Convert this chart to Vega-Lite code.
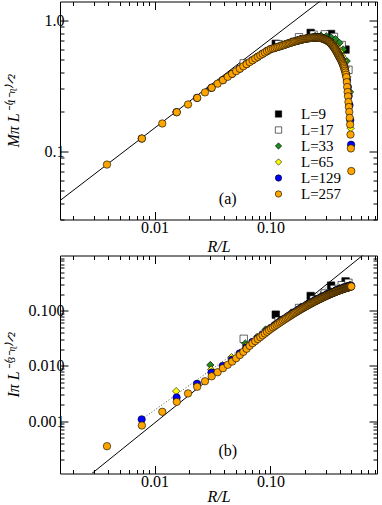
{
"$schema": "https://vega.github.io/schema/vega-lite/v6.json",
"padding": {"left": 5, "top": 0.5, "right": 0, "bottom": 0},
"spacing": -5,
"config": {
  "font": "Liberation Serif",
  "view": {"stroke": null},
  "axis": {"domainColor": "black", "domainWidth": 1, "tickColor": "black", "tickWidth": 1, "labelColor": "black", "titleColor": "black", "labelFont": "Liberation Serif", "titleFont": "Liberation Serif", "labelFontSize": 16, "titleFontSize": 16, "titleFontWeight": "normal", "grid": false, "labelOverlap": false, "labelFlush": false, "labelBound": false},
  "legend": {"labelFont": "Liberation Serif"}
},
"resolve": {"legend": {"fill": "independent", "shape": "independent"}},
"datasets": {
"pts": [
{"L":9,"x":0.1111,"m":0.664,"i":0.085},{"L":9,"x":0.2222,"m":0.805,"i":0.185},{"L":9,"x":0.3333,"m":0.79,"i":0.285},{"L":9,"x":0.4444,"m":0.6,"i":0.34},
{"L":17,"x":0.0588,"m":0.47,"i":0.031},{"L":17,"x":0.1176,"m":0.66,"i":0.066},{"L":17,"x":0.1765,"m":0.745,"i":0.112},{"L":17,"x":0.2353,"m":0.78,"i":0.16},{"L":17,"x":0.2941,"m":0.785,"i":0.205},{"L":17,"x":0.3529,"m":0.75,"i":0.248},{"L":17,"x":0.4118,"m":0.65,"i":0.29},{"L":17,"x":0.4706,"m":0.42,"i":0.32},
{"L":33,"x":0.0303,"m":0.305,"i":0.0104},{"L":33,"x":0.0606,"m":0.46,"i":0.0256},{"L":33,"x":0.0909,"m":0.585,"i":0.0457},{"L":33,"x":0.1212,"m":0.645,"i":0.0689},{"L":33,"x":0.1515,"m":0.692,"i":0.0928},{"L":33,"x":0.1818,"m":0.728,"i":0.1168},{"L":33,"x":0.2121,"m":0.75,"i":0.1405},{"L":33,"x":0.2424,"m":0.762,"i":0.1631},{"L":33,"x":0.2727,"m":0.765,"i":0.1843},{"L":33,"x":0.303,"m":0.758,"i":0.2044},{"L":33,"x":0.3333,"m":0.742,"i":0.2231},{"L":33,"x":0.3636,"m":0.72,"i":0.2406},{"L":33,"x":0.3939,"m":0.675,"i":0.2559},{"L":33,"x":0.4242,"m":0.6,"i":0.2705},{"L":33,"x":0.4545,"m":0.49,"i":0.2828},{"L":33,"x":0.4848,"m":0.285,"i":0.2945},
{"L":65,"x":0.01538,"m":0.2,"i":0.0035},{"L":65,"x":0.03077,"m":0.305,"i":0.0086},{"L":65,"x":0.04615,"m":0.39,"i":0.0144},{"L":65,"x":0.06154,"m":0.462,"i":0.0232},{"L":65,"x":0.07692,"m":0.527,"i":0.0338},{"L":65,"x":0.09231,"m":0.585,"i":0.0448},{"L":65,"x":0.1077,"m":0.618,"i":0.0564},{"L":65,"x":0.1231,"m":0.642,"i":0.0676},{"L":65,"x":0.1385,"m":0.665,"i":0.0797},{"L":65,"x":0.1538,"m":0.685,"i":0.0919},{"L":65,"x":0.1692,"m":0.702,"i":0.104},{"L":65,"x":0.1846,"m":0.717,"i":0.1158},{"L":65,"x":0.2,"m":0.728,"i":0.1274},{"L":65,"x":0.2154,"m":0.737,"i":0.1392},{"L":65,"x":0.2308,"m":0.743,"i":0.1504},{"L":65,"x":0.2462,"m":0.746,"i":0.1615},{"L":65,"x":0.2615,"m":0.746,"i":0.1719},{"L":65,"x":0.2769,"m":0.742,"i":0.1825},{"L":65,"x":0.2923,"m":0.733,"i":0.1925},{"L":65,"x":0.3077,"m":0.72,"i":0.2025},{"L":65,"x":0.3231,"m":0.706,"i":0.2117},{"L":65,"x":0.3385,"m":0.69,"i":0.221},{"L":65,"x":0.3538,"m":0.668,"i":0.23},{"L":65,"x":0.3692,"m":0.64,"i":0.2384},{"L":65,"x":0.3846,"m":0.61,"i":0.2463},{"L":65,"x":0.4,"m":0.575,"i":0.2536},{"L":65,"x":0.4154,"m":0.535,"i":0.2611},{"L":65,"x":0.4308,"m":0.49,"i":0.268},{"L":65,"x":0.4462,"m":0.44,"i":0.2743},{"L":65,"x":0.4615,"m":0.37,"i":0.2802},{"L":65,"x":0.4769,"m":0.28,"i":0.2861},{"L":65,"x":0.4923,"m":0.15,"i":0.2917},
{"L":129,"x":0.00775,"m":0.125,"i":0.00108},{"L":129,"x":0.0155,"m":0.199,"i":0.00269},{"L":129,"x":0.02326,"m":0.256,"i":0.00475},{"L":129,"x":0.03101,"m":0.306,"i":0.0076},{"L":129,"x":0.03876,"m":0.35,"i":0.01},{"L":129,"x":0.04651,"m":0.391,"i":0.01296},{"L":129,"x":0.05426,"m":0.428,"i":0.0169},{"L":129,"x":0.06202,"m":0.464,"i":0.0217},{"L":129,"x":0.06977,"m":0.497,"i":0.0271},{"L":129,"x":0.07752,"m":0.528,"i":0.0319},{"L":129,"x":0.08527,"m":0.557,"i":0.0373},{"L":129,"x":0.09302,"m":0.583,"i":0.0427},{"L":129,"x":0.1008,"m":0.606,"i":0.0488},{"L":129,"x":0.1085,"m":0.618,"i":0.0543},{"L":129,"x":0.1163,"m":0.63,"i":0.06},{"L":129,"x":0.124,"m":0.641,"i":0.0657},{"L":129,"x":0.1318,"m":0.653,"i":0.0717},{"L":129,"x":0.1395,"m":0.665,"i":0.0775},{"L":129,"x":0.1473,"m":0.675,"i":0.0833},{"L":129,"x":0.155,"m":0.685,"i":0.0893},{"L":129,"x":0.1628,"m":0.694,"i":0.0951},{"L":129,"x":0.1705,"m":0.702,"i":0.101},{"L":129,"x":0.1783,"m":0.71,"i":0.1069},{"L":129,"x":0.186,"m":0.716,"i":0.1125},{"L":129,"x":0.1938,"m":0.722,"i":0.1183},{"L":129,"x":0.2016,"m":0.727,"i":0.1238},{"L":129,"x":0.2093,"m":0.731,"i":0.1297},{"L":129,"x":0.2171,"m":0.735,"i":0.1352},{"L":129,"x":0.2248,"m":0.738,"i":0.1406},{"L":129,"x":0.2326,"m":0.74,"i":0.1462},{"L":129,"x":0.2403,"m":0.742,"i":0.1518},{"L":129,"x":0.2481,"m":0.743,"i":0.157},{"L":129,"x":0.2558,"m":0.743,"i":0.1622},{"L":129,"x":0.2636,"m":0.741,"i":0.1671},{"L":129,"x":0.2713,"m":0.738,"i":0.1722},{"L":129,"x":0.2791,"m":0.734,"i":0.1774},{"L":129,"x":0.2868,"m":0.729,"i":0.1821},{"L":129,"x":0.2946,"m":0.722,"i":0.187},{"L":129,"x":0.3023,"m":0.714,"i":0.1919},{"L":129,"x":0.3101,"m":0.706,"i":0.1967},{"L":129,"x":0.3178,"m":0.697,"i":0.2015},{"L":129,"x":0.3256,"m":0.686,"i":0.2057},{"L":129,"x":0.3333,"m":0.672,"i":0.2103},{"L":129,"x":0.3411,"m":0.657,"i":0.2148},{"L":129,"x":0.3488,"m":0.641,"i":0.2191},{"L":129,"x":0.3566,"m":0.624,"i":0.2235},{"L":129,"x":0.3643,"m":0.606,"i":0.2275},{"L":129,"x":0.3721,"m":0.588,"i":0.2316},{"L":129,"x":0.3798,"m":0.569,"i":0.2355},{"L":129,"x":0.3876,"m":0.551,"i":0.2394},{"L":129,"x":0.3953,"m":0.534,"i":0.2432},{"L":129,"x":0.4031,"m":0.517,"i":0.2464},{"L":129,"x":0.4109,"m":0.499,"i":0.2501},{"L":129,"x":0.4186,"m":0.478,"i":0.2537},{"L":129,"x":0.4264,"m":0.46,"i":0.257},{"L":129,"x":0.4341,"m":0.44,"i":0.2604},{"L":129,"x":0.4419,"m":0.415,"i":0.2634},{"L":129,"x":0.4496,"m":0.385,"i":0.2666},{"L":129,"x":0.4574,"m":0.35,"i":0.2697},{"L":129,"x":0.4651,"m":0.31,"i":0.2722},{"L":129,"x":0.4729,"m":0.265,"i":0.2751},{"L":129,"x":0.4806,"m":0.225,"i":0.278},{"L":129,"x":0.4884,"m":0.173,"i":0.2808},{"L":129,"x":0.4961,"m":0.112,"i":0.2835},
{"L":257,"x":0.00389,"m":0.079,"i":0.000353},{"L":257,"x":0.00778,"m":0.125,"i":0.000836},{"L":257,"x":0.01167,"m":0.163,"i":0.00148},{"L":257,"x":0.01556,"m":0.199,"i":0.00224},{"L":257,"x":0.01946,"m":0.228,"i":0.00318},{"L":257,"x":0.02335,"m":0.256,"i":0.0042},{"L":257,"x":0.02724,"m":0.282,"i":0.00529},{"L":257,"x":0.03113,"m":0.306,"i":0.0065},{"L":257,"x":0.03502,"m":0.329,"i":0.0077},{"L":257,"x":0.03891,"m":0.35,"i":0.0091},{"L":257,"x":0.0428,"m":0.371,"i":0.0105},{"L":257,"x":0.04669,"m":0.391,"i":0.012},{"L":257,"x":0.05058,"m":0.41,"i":0.0138},{"L":257,"x":0.05447,"m":0.428,"i":0.0158},{"L":257,"x":0.05837,"m":0.447,"i":0.018},{"L":257,"x":0.06226,"m":0.464,"i":0.0205},{"L":257,"x":0.06615,"m":0.481,"i":0.0232},{"L":257,"x":0.07004,"m":0.497,"i":0.0258},{"L":257,"x":0.07393,"m":0.513,"i":0.0282},{"L":257,"x":0.07782,"m":0.528,"i":0.0307},{"L":257,"x":0.08171,"m":0.543,"i":0.0333},{"L":257,"x":0.0856,"m":0.557,"i":0.0359},{"L":257,"x":0.08949,"m":0.57,"i":0.0387},{"L":257,"x":0.09339,"m":0.583,"i":0.0415},{"L":257,"x":0.09728,"m":0.595,"i":0.0444},{"L":257,"x":0.1012,"m":0.606,"i":0.0474},{"L":257,"x":0.1051,"m":0.612,"i":0.05},{"L":257,"x":0.1089,"m":0.618,"i":0.0527},{"L":257,"x":0.1128,"m":0.624,"i":0.0555},{"L":257,"x":0.1167,"m":0.63,"i":0.0583},{"L":257,"x":0.1206,"m":0.635,"i":0.0612},{"L":257,"x":0.1245,"m":0.641,"i":0.0638},{"L":257,"x":0.1284,"m":0.647,"i":0.0667},{"L":257,"x":0.1323,"m":0.653,"i":0.0696},{"L":257,"x":0.1362,"m":0.659,"i":0.0724},{"L":257,"x":0.1401,"m":0.665,"i":0.0752},{"L":257,"x":0.144,"m":0.67,"i":0.078},{"L":257,"x":0.1479,"m":0.675,"i":0.0809},{"L":257,"x":0.1518,"m":0.68,"i":0.0838},{"L":257,"x":0.1556,"m":0.685,"i":0.0867},{"L":257,"x":0.1595,"m":0.69,"i":0.0897},{"L":257,"x":0.1634,"m":0.694,"i":0.0923},{"L":257,"x":0.1673,"m":0.698,"i":0.0952},{"L":257,"x":0.1712,"m":0.702,"i":0.0981},{"L":257,"x":0.1751,"m":0.706,"i":0.1009},{"L":257,"x":0.179,"m":0.71,"i":0.1038},{"L":257,"x":0.1829,"m":0.713,"i":0.1064},{"L":257,"x":0.1868,"m":0.716,"i":0.1092},{"L":257,"x":0.1907,"m":0.719,"i":0.1121},{"L":257,"x":0.1946,"m":0.722,"i":0.1149},{"L":257,"x":0.1984,"m":0.725,"i":0.1178},{"L":257,"x":0.2023,"m":0.727,"i":0.1202},{"L":257,"x":0.2062,"m":0.729,"i":0.123},{"L":257,"x":0.2101,"m":0.731,"i":0.1259},{"L":257,"x":0.214,"m":0.733,"i":0.1286},{"L":257,"x":0.2179,"m":0.735,"i":0.1313},{"L":257,"x":0.2218,"m":0.737,"i":0.1338},{"L":257,"x":0.2257,"m":0.738,"i":0.1365},{"L":257,"x":0.2296,"m":0.739,"i":0.1392},{"L":257,"x":0.2335,"m":0.74,"i":0.1419},{"L":257,"x":0.2374,"m":0.741,"i":0.1446},{"L":257,"x":0.2412,"m":0.742,"i":0.1474},{"L":257,"x":0.2451,"m":0.742,"i":0.1497},{"L":257,"x":0.249,"m":0.742,"i":0.1524},{"L":257,"x":0.2529,"m":0.742,"i":0.155},{"L":257,"x":0.2568,"m":0.741,"i":0.1575},{"L":257,"x":0.2607,"m":0.74,"i":0.1602},{"L":257,"x":0.2646,"m":0.739,"i":0.1622},{"L":257,"x":0.2685,"m":0.737,"i":0.1647},{"L":257,"x":0.2724,"m":0.735,"i":0.1672},{"L":257,"x":0.2763,"m":0.733,"i":0.1697},{"L":257,"x":0.2802,"m":0.73,"i":0.1722},{"L":257,"x":0.284,"m":0.727,"i":0.1744},{"L":257,"x":0.2879,"m":0.724,"i":0.1768},{"L":257,"x":0.2918,"m":0.72,"i":0.1792},{"L":257,"x":0.2957,"m":0.716,"i":0.1816},{"L":257,"x":0.2996,"m":0.712,"i":0.184},{"L":257,"x":0.3035,"m":0.708,"i":0.1863},{"L":257,"x":0.3074,"m":0.704,"i":0.1886},{"L":257,"x":0.3113,"m":0.7,"i":0.191},{"L":257,"x":0.3152,"m":0.695,"i":0.1933},{"L":257,"x":0.3191,"m":0.69,"i":0.1956},{"L":257,"x":0.323,"m":0.685,"i":0.1975},{"L":257,"x":0.3268,"m":0.678,"i":0.1997},{"L":257,"x":0.3307,"m":0.67,"i":0.2019},{"L":257,"x":0.3346,"m":0.663,"i":0.2042},{"L":257,"x":0.3385,"m":0.655,"i":0.2064},{"L":257,"x":0.3424,"m":0.647,"i":0.2085},{"L":257,"x":0.3463,"m":0.638,"i":0.2106},{"L":257,"x":0.3502,"m":0.63,"i":0.2127},{"L":257,"x":0.3541,"m":0.621,"i":0.2148},{"L":257,"x":0.358,"m":0.612,"i":0.217},{"L":257,"x":0.3619,"m":0.603,"i":0.2189},{"L":257,"x":0.3658,"m":0.594,"i":0.2209},{"L":257,"x":0.3696,"m":0.584,"i":0.2229},{"L":257,"x":0.3735,"m":0.575,"i":0.2249},{"L":257,"x":0.3774,"m":0.565,"i":0.2269},{"L":257,"x":0.3813,"m":0.555,"i":0.2286},{"L":257,"x":0.3852,"m":0.546,"i":0.2305},{"L":257,"x":0.3891,"m":0.537,"i":0.2324},{"L":257,"x":0.393,"m":0.529,"i":0.2343},{"L":257,"x":0.3969,"m":0.52,"i":0.2361},{"L":257,"x":0.4008,"m":0.512,"i":0.2379},{"L":257,"x":0.4047,"m":0.504,"i":0.2392},{"L":257,"x":0.4086,"m":0.495,"i":0.241},{"L":257,"x":0.4125,"m":0.486,"i":0.2428},{"L":257,"x":0.4163,"m":0.477,"i":0.2445},{"L":257,"x":0.4202,"m":0.468,"i":0.2463},{"L":257,"x":0.4241,"m":0.458,"i":0.2479},{"L":257,"x":0.428,"m":0.448,"i":0.2495},{"L":257,"x":0.4319,"m":0.437,"i":0.2512},{"L":257,"x":0.4358,"m":0.425,"i":0.2528},{"L":257,"x":0.4397,"m":0.413,"i":0.2545},{"L":257,"x":0.4436,"m":0.4,"i":0.2557},{"L":257,"x":0.4475,"m":0.385,"i":0.2572},{"L":257,"x":0.4514,"m":0.369,"i":0.2588},{"L":257,"x":0.4553,"m":0.338,"i":0.2603},{"L":257,"x":0.4591,"m":0.31,"i":0.2618},{"L":257,"x":0.463,"m":0.284,"i":0.2628},{"L":257,"x":0.4669,"m":0.263,"i":0.2643},{"L":257,"x":0.4708,"m":0.238,"i":0.2657},{"L":257,"x":0.4747,"m":0.218,"i":0.2671},{"L":257,"x":0.4786,"m":0.2,"i":0.2686},{"L":257,"x":0.4825,"m":0.18,"i":0.2699},{"L":257,"x":0.4864,"m":0.16,"i":0.2712},{"L":257,"x":0.4903,"m":0.134,"i":0.2726},{"L":257,"x":0.4942,"m":0.105,"i":0.2739},{"L":257,"x":0.4981,"m":0.0705,"i":0.2752}
]
},
"vconcat": [
{
  "width": 317, "height": 218,
  "resolve": {"scale": {"x": "independent", "y": "independent"}},
  "layer": [
    {
      "data": {"values": [{"x": 0.00153, "m": 0.0419}, {"x": 0.28, "m": 1.45}]},
      "mark": {"type": "line", "color": "black", "strokeWidth": 1, "clip": true},
      "encoding": {
        "x": {"field": "x", "type": "quantitative", "scale": {"type": "log", "domain": [0.00153, 0.83], "nice": false},
              "axis": {"orient": "top", "labels": false, "title": null, "values": [0.002,0.003,0.004,0.005,0.006,0.007,0.008,0.009,0.01,0.02,0.03,0.04,0.05,0.06,0.07,0.08,0.09,0.1,0.2,0.3,0.4,0.5,0.6,0.7,0.8],
                       "tickSize": {"condition": {"test": "datum.value == 0.01 || datum.value == 0.1", "value": -8}, "value": -4}}},
        "y": {"field": "m", "type": "quantitative", "scale": {"type": "log", "domain": [0.03, 1.4], "nice": false},
              "axis": {"orient": "right", "labels": false, "title": null, "values": [0.03,0.04,0.05,0.06,0.07,0.08,0.09,0.1,0.2,0.3,0.4,0.5,0.6,0.7,0.8,0.9,1],
                       "tickSize": {"condition": {"test": "datum.value == 0.1 || datum.value == 1", "value": -8}, "value": -4}}}
      }
    },
    {
      "encoding": {
        "x": {"field": "x", "type": "quantitative", "scale": {"type": "log", "domain": [0.00153, 0.83], "nice": false},
              "axis": {"orient": "bottom", "title": "R/L", "titleFontStyle": "italic", "labelPadding": 8, "titlePadding": -1,
                       "values": [0.002,0.003,0.004,0.005,0.006,0.007,0.008,0.009,0.01,0.02,0.03,0.04,0.05,0.06,0.07,0.08,0.09,0.1,0.2,0.3,0.4,0.5,0.6,0.7,0.8],
                       "labelExpr": "datum.value == 0.01 ? '0.01' : datum.value == 0.1 ? '0.10' : ''",
                       "tickSize": {"condition": {"test": "datum.value == 0.01 || datum.value == 0.1", "value": -8}, "value": -4}}},
        "y": {"field": "m", "type": "quantitative", "scale": {"type": "log", "domain": [0.03, 1.4], "nice": false},
              "axis": {"orient": "left", "title": "Mπ L⁻⁽¹⁻ᶯ⁾ᐟ²", "titleFontStyle": "italic", "labelPadding": 4, "titleX": -42, "titleBaseline": "alphabetic",
                       "values": [0.03,0.04,0.05,0.06,0.07,0.08,0.09,0.1,0.2,0.3,0.4,0.5,0.6,0.7,0.8,0.9,1],
                       "labelExpr": "datum.value == 0.1 ? '0.1' : datum.value == 1 ? '1.0' : ''",
                       "tickSize": {"condition": {"test": "datum.value == 0.1 || datum.value == 1", "value": -8}, "value": -4}}}
      },
      "layer": [
        {
          "data": {"name": "pts"},
          "mark": {"type": "point", "filled": true, "opacity": 1, "stroke": "black", "strokeWidth": 0.6},
          "encoding": {
            "fill": {"field": "L", "type": "nominal", "scale": {"domain": [9, 17, 33, 65, 129, 257], "range": ["#000000", "#ffffff", "#1f8a1f", "#ffff00", "#0000ff", "#ffa500"]},
                     "legend": {"orient": "none", "legendX": 211, "legendY": 105, "title": null, "padding": 0, "rowPadding": 0, "labelOffset": 15, "symbolSize": 40,
                                "labelExpr": "'L=' + datum.label", "labelFont": "Liberation Serif", "labelFontSize": 15, "labelColor": "black",
                                "symbolStrokeColor": "black", "symbolStrokeWidth": 0.6}},
            "shape": {"field": "L", "type": "nominal", "scale": {"domain": [9, 17, 33, 65, 129, 257], "range": ["square", "square", "diamond", "diamond", "circle", "circle"]}},
            "size": {"field": "L", "type": "ordinal", "scale": {"domain": [9, 17, 33, 65, 129, 257], "range": [55, 55, 50, 50, 85, 85]}, "legend": null}
          }
        },
        {
          "data": {"values": [{"x": 0.0428, "m": 0.0434, "t": "(a)"}]},
          "mark": {"type": "text", "fontSize": 16, "font": "Liberation Serif", "color": "black", "align": "center", "baseline": "middle"},
          "encoding": {"text": {"field": "t"}}
        }
      ]
    }
  ]
},
{
  "width": 317, "height": 218,
  "resolve": {"scale": {"x": "independent", "y": "independent"}},
  "layer": [
    {
      "data": {"values": [{"x": 0.00288, "i": 0.000113}, {"x": 0.65, "i": 1.077}]},
      "mark": {"type": "line", "color": "black", "strokeWidth": 1, "clip": true},
      "encoding": {
        "x": {"field": "x", "type": "quantitative", "scale": {"type": "log", "domain": [0.00153, 0.83], "nice": false},
              "axis": {"orient": "top", "labels": false, "title": null, "values": [0.002,0.003,0.004,0.005,0.006,0.007,0.008,0.009,0.01,0.02,0.03,0.04,0.05,0.06,0.07,0.08,0.09,0.1,0.2,0.3,0.4,0.5,0.6,0.7,0.8],
                       "tickSize": {"condition": {"test": "datum.value == 0.01 || datum.value == 0.1", "value": -8}, "value": -4}}},
        "y": {"field": "i", "type": "quantitative", "scale": {"type": "log", "domain": [0.000113, 1.0], "nice": false},
              "axis": {"orient": "right", "labels": false, "title": null, "values": [0.0002,0.0003,0.0004,0.0005,0.0006,0.0007,0.0008,0.0009,0.001,0.002,0.003,0.004,0.005,0.006,0.007,0.008,0.009,0.01,0.02,0.03,0.04,0.05,0.06,0.07,0.08,0.09,0.1,0.2,0.3,0.4,0.5,0.6,0.7,0.8,0.9],
                       "tickSize": {"condition": {"test": "datum.value == 0.001 || datum.value == 0.01 || datum.value == 0.1", "value": -8}, "value": -4}}}
      }
    },
    {
      "encoding": {
        "x": {"field": "x", "type": "quantitative", "scale": {"type": "log", "domain": [0.00153, 0.83], "nice": false},
              "axis": {"orient": "bottom", "title": "R/L", "titleFontStyle": "italic", "labelPadding": 8, "titlePadding": -5,
                       "values": [0.002,0.003,0.004,0.005,0.006,0.007,0.008,0.009,0.01,0.02,0.03,0.04,0.05,0.06,0.07,0.08,0.09,0.1,0.2,0.3,0.4,0.5,0.6,0.7,0.8],
                       "labelExpr": "datum.value == 0.01 ? '0.01' : datum.value == 0.1 ? '0.10' : ''",
                       "tickSize": {"condition": {"test": "datum.value == 0.01 || datum.value == 0.1", "value": -8}, "value": -4}}},
        "y": {"field": "i", "type": "quantitative", "scale": {"type": "log", "domain": [0.000113, 1.0], "nice": false},
              "axis": {"orient": "left", "title": "Iπ L⁻⁽³⁻ᶯ⁾ᐟ²", "titleFontStyle": "italic", "labelPadding": 4, "titleX": -42, "titleBaseline": "alphabetic",
                       "values": [0.0002,0.0003,0.0004,0.0005,0.0006,0.0007,0.0008,0.0009,0.001,0.002,0.003,0.004,0.005,0.006,0.007,0.008,0.009,0.01,0.02,0.03,0.04,0.05,0.06,0.07,0.08,0.09,0.1,0.2,0.3,0.4,0.5,0.6,0.7,0.8,0.9],
                       "labelExpr": "datum.value == 0.001 ? '0.001' : datum.value == 0.01 ? '0.010' : datum.value == 0.1 ? '0.100' : ''",
                       "tickSize": {"condition": {"test": "datum.value == 0.001 || datum.value == 0.01 || datum.value == 0.1", "value": -8}, "value": -4}}}
      },
      "layer": [
        {
          "data": {"values": [{"x": 0.00775, "i": 0.00108}, {"x": 0.3, "i": 0.26}]},
          "mark": {"type": "line", "color": "#555555", "strokeWidth": 1, "strokeDash": [1, 2]},
          "encoding": {}
        },
        {
          "data": {"name": "pts"},
          "mark": {"type": "point", "filled": true, "opacity": 1, "stroke": "black", "strokeWidth": 0.6},
          "encoding": {
            "fill": {"field": "L", "type": "nominal", "scale": {"domain": [9, 17, 33, 65, 129, 257], "range": ["#000000", "#ffffff", "#1f8a1f", "#ffff00", "#0000ff", "#ffa500"]}, "legend": null},
            "shape": {"field": "L", "type": "nominal", "scale": {"domain": [9, 17, 33, 65, 129, 257], "range": ["square", "square", "diamond", "diamond", "circle", "circle"]}, "legend": null},
            "size": {"field": "L", "type": "ordinal", "scale": {"domain": [9, 17, 33, 65, 129, 257], "range": [45, 45, 45, 45, 62, 62]}, "legend": null}
          }
        },
        {
          "data": {"values": [{"x": 0.0428, "i": 0.000287, "t": "(b)"}]},
          "mark": {"type": "text", "fontSize": 16, "font": "Liberation Serif", "color": "black", "align": "center", "baseline": "middle"},
          "encoding": {"text": {"field": "t"}}
        }
      ]
    }
  ]
}
]
}
